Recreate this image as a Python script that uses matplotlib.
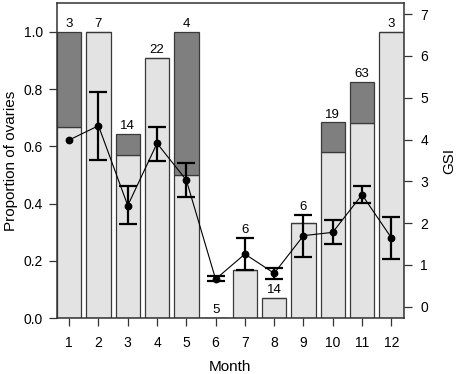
import matplotlib
matplotlib.use("Agg")
import matplotlib.pyplot as plt
import numpy as np

plt.rcParams['font.family'] = ['Liberation Sans', 'DejaVu Sans']

# ---- data ----
months = [1, 2, 3, 4, 5, 6, 7, 8, 9, 10, 11, 12]
n_ovaries = [3, 7, 14, 22, 4, 5, 6, 14, 6, 19, 63, 3]
prop_light = [0.667, 1.0, 0.571, 0.909, 0.5, 0.0, 0.167, 0.071, 0.333, 0.579, 0.683, 1.0]
prop_dark = [0.333, 0.0, 0.072, 0.0, 0.5, 0.0, 0.0, 0.0, 0.0, 0.105, 0.142, 0.0]
gsi_mean = [3.99, 4.33, 2.42, 3.91, 3.03, 0.66, 1.26, 0.80, 1.70, 1.78, 2.68, 1.65]
gsi_upper = [np.nan, 5.14, 2.89, 4.30, 3.43, 0.73, 1.65, 0.92, 2.19, 2.07, 2.89, 2.15]
gsi_lower = [np.nan, 3.51, 1.97, 3.49, 2.62, 0.62, 0.88, 0.66, 1.20, 1.49, 2.49, 1.14]
labels_above_gsi = [7, 9]

# ---- figure ----
fig = plt.figure(figsize=(4.59, 3.74), dpi=100)
ax = fig.add_axes([57 / 459, 56 / 374, 346.5 / 459, 314.7 / 374])

x = np.array(months, dtype=float)
light = np.array(prop_light)
dark = np.array(prop_dark)
width = 1 / 1.2
edge = '#3a3a3a'
ax.bar(x, light, width=width, color='#e3e3e3', edgecolor=edge, linewidth=0.9, zorder=2)
ax.bar(x, dark, bottom=light, width=width, color='#7f7f7f', edgecolor=edge, linewidth=0.9, zorder=2)

ax.set_xlim(1 - width / 2, 12 + width / 2)
ax.set_ylim(0, 1.1)
ax.set_yticks([0.0, 0.2, 0.4, 0.6, 0.8, 1.0])
ax.set_yticklabels(['0.0', '0.2', '0.4', '0.6', '0.8', '1.0'])
ax.set_xticks(months)
ax.set_xticklabels([str(m) for m in months])
ax.tick_params(axis='both', direction='out', length=6, width=0.9, labelsize=10,
               color='#333333')
ax.tick_params(axis='x', pad=7)
ax.tick_params(axis='y', pad=4)
for s in ax.spines.values():
    s.set_linewidth(1.1)
    s.set_color('#333333')
ax.set_xlabel('Month', fontsize=11, labelpad=7)
ax.set_ylabel('Proportion of ovaries', fontsize=11, labelpad=4)

# secondary axis
ax2 = ax.twinx()
ylo2, yhi2 = -0.27, 7.26
ax2.set_ylim(ylo2, yhi2)
ax2.set_yticks(range(0, 8))
ax2.tick_params(axis='y', direction='out', length=6, width=0.9, labelsize=10,
                pad=6, color='#333333')
for s in ax2.spines.values():
    s.set_visible(False)
ax2.set_ylabel('GSI', fontsize=11, labelpad=10)

gm = np.array(gsi_mean)
gu = np.array(gsi_upper)
gl = np.array(gsi_lower)
ax2.plot(x, gm, color='black', linewidth=0.8, zorder=3)
ok = ~np.isnan(gu)
ax2.errorbar(x[ok], gm[ok], yerr=[gm[ok] - gl[ok], gu[ok] - gm[ok]], fmt='none',
             ecolor='black', elinewidth=1.6, capsize=6.3, capthick=1.6, zorder=3)
ax2.plot(x, gm, 'o', color='black', markersize=4.6, zorder=4)

# count labels (in proportion units)
def gsi_to_prop(v):
    return (v - ylo2) / (yhi2 - ylo2) * 1.1

for m, n, l, d, u in zip(months, n_ovaries, prop_light, prop_dark, gsi_upper):
    top = l + d
    if m in labels_above_gsi:
        top = max(top, gsi_to_prop(u))
    ax.text(m, top + 0.027, str(n), ha='center', va='center', fontsize=9.5, zorder=5)

fig.savefig('out.png', dpi=100)
